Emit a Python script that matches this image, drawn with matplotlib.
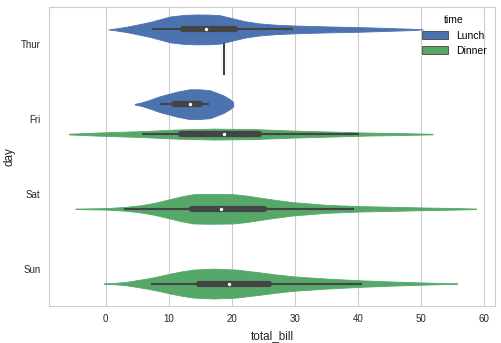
import matplotlib.pyplot as plt
import numpy as np
from matplotlib.patches import Patch

plt.rcParams['font.family'] = ['Liberation Sans', 'DejaVu Sans']

days = ["Thur", "Fri", "Sat", "Sun"]
times = ["Lunch", "Dinner"]
colors = {"Lunch": "#4C72B0", "Dinner": "#55A868"}
box_gray = "#444444"

# violin outlines: (total_bill, half width)
thur_lunch_x = [0.4, 1.5, 3.3, 5.0, 7.0, 10.2, 12.5, 14.4, 16.5, 18.1, 20.2, 22.0, 24.4, 27.0, 29.7, 35.0, 40.3, 45.6, 48.5, 50.3]
thur_lunch_w = [0.0, 0.012, 0.036, 0.065, 0.10, 0.173, 0.195, 0.2, 0.198, 0.19, 0.147, 0.11, 0.08, 0.063, 0.053, 0.04, 0.031, 0.017, 0.009, 0.0]
fri_lunch_x = [4.6, 5.5, 6.5, 8.6, 11.2, 13.3, 15.0, 16.5, 18.6, 19.6, 20.2]
fri_lunch_w = [0.005, 0.02, 0.045, 0.107, 0.165, 0.2, 0.198, 0.187, 0.12, 0.07, 0.03]
fri_dinner_x = [-5.8, -1.5, 5.9, 10.8, 17.1, 23.4, 29.7, 36.0, 41.3, 46.6, 51.8]
fri_dinner_w = [0.005, 0.02, 0.04, 0.06, 0.073, 0.067, 0.047, 0.033, 0.02, 0.013, 0.004]
sat_dinner_x = [-4.8, 0.1, 3.3, 5.5, 7.5, 10.2, 12.0, 13.9, 16.5, 20.2, 22.5, 24.4, 27.0, 29.7, 35.0, 40.3, 45.6, 50.9, 56.2, 58.7]
sat_dinner_w = [0.003, 0.01, 0.027, 0.048, 0.076, 0.13, 0.167, 0.196, 0.2, 0.196, 0.175, 0.15, 0.118, 0.089, 0.053, 0.036, 0.027, 0.017, 0.009, 0.003]
sun_dinner_x = [-0.3, 1.5, 3.3, 6.5, 8.5, 10.2, 12.0, 13.9, 17.0, 20.7, 24.4, 27.0, 29.7, 35.0, 40.3, 45.6, 50.9, 55.7]
sun_dinner_w = [0.003, 0.01, 0.023, 0.067, 0.1, 0.133, 0.163, 0.187, 0.2, 0.187, 0.15, 0.122, 0.097, 0.067, 0.044, 0.027, 0.013, 0.003]

# inner box stats: whisker low, q1, median, q3, whisker high
thur_lunch_box = [7.4, 12.3, 15.9, 20.5, 29.7]
fri_lunch_box = [8.6, 10.8, 13.4, 14.9, 16.3]
fri_dinner_box = [5.75, 12.0, 18.7, 24.3, 40.2]
sat_dinner_box = [2.9, 13.6, 18.3, 25.1, 39.4]
sun_dinner_box = [7.1, 14.7, 19.6, 25.9, 40.6]

thur_dinner_single = 18.78

violins = [
    ("Thur", "Lunch", thur_lunch_x, thur_lunch_w, thur_lunch_box),
    ("Fri", "Lunch", fri_lunch_x, fri_lunch_w, fri_lunch_box),
    ("Fri", "Dinner", fri_dinner_x, fri_dinner_w, fri_dinner_box),
    ("Sat", "Dinner", sat_dinner_x, sat_dinner_w, sat_dinner_box),
    ("Sun", "Dinner", sun_dinner_x, sun_dinner_w, sun_dinner_box),
]
offsets = {"Lunch": -0.2, "Dinner": 0.2}

fig = plt.figure(figsize=(5.02, 3.43), dpi=100)
ax = fig.add_axes([49 / 502, 1 - 306 / 343, (495 - 49) / 502, (306 - 7) / 343])

for day, t, xs, ws, box in violins:
    y = days.index(day) + offsets[t]
    xs = np.array(xs)
    ws = np.array(ws)
    ax.fill_between(xs, y - ws, y + ws, color=colors[t], linewidth=0.6,
                    edgecolor=colors[t], zorder=2)
    ax.plot([box[0], box[4]], [y, y], color=box_gray, lw=1.5,
            solid_capstyle="butt", zorder=3)
    ax.plot([box[1], box[3]], [y, y], color=box_gray, lw=4.5,
            solid_capstyle="round", zorder=3)
    ax.scatter([box[2]], [y], s=6, color="white", zorder=4, linewidths=0)

yt = days.index("Thur") + offsets["Dinner"]
ax.plot([thur_dinner_single, thur_dinner_single], [yt - 0.2, yt + 0.2],
        color=box_gray, lw=1.5, zorder=3)

ax.set_xlim(-9.0, 61.7)
ax.set_ylim(3.5, -0.5)
ax.set_yticks(range(len(days)))
ax.set_yticklabels(days)
ax.set_xticks(range(0, 61, 10))
ax.grid(axis="x", color="#cccccc", lw=0.8)
ax.set_axisbelow(True)
for s in ax.spines.values():
    s.set_color("#cccccc")
    s.set_linewidth(0.8)
ax.tick_params(length=0, labelsize=7, colors="#262626", pad=6)
ax.set_xlabel("total_bill", fontsize=8.5, color="#262626", labelpad=4)
ax.set_ylabel("day", fontsize=8.5, color="#262626", labelpad=4)

handles = [Patch(facecolor=colors[t], edgecolor="#444444", linewidth=0.6, label=t) for t in times]
leg = ax.legend(handles=handles, title="time", loc="upper right", frameon=False,
                fontsize=7.5, title_fontsize=7.5, handlelength=2.5, handleheight=0.9,
                borderaxespad=0.4, bbox_to_anchor=(1.0, 1.0))

fig.savefig("out.png", dpi=100)
